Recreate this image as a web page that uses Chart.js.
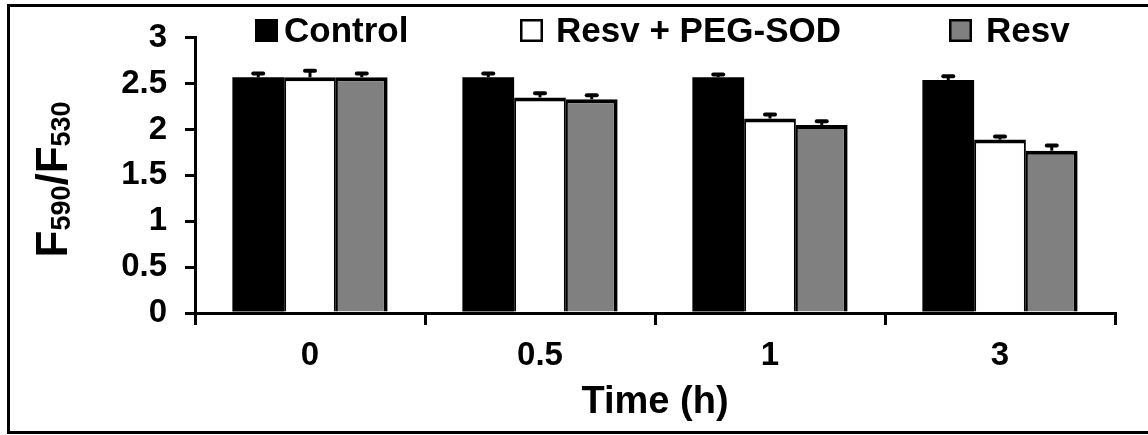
<!DOCTYPE html>
<html>
<head>
<meta charset="utf-8">
<script src="https://cdn.jsdelivr.net/npm/chart.js@4.4.1/dist/chart.umd.min.js"></script>
<style>
  html, body { margin: 0; padding: 0; background: #fff; }
</style>
</head>
<body>
<canvas id="grafico" width="1148" height="435"></canvas>
<script>
const horas = ["0", "0.5", "1", "3"];
const nomes = ["Control", "Resv + PEG-SOD", "Resv"];
const controlo = [2.57, 2.57, 2.57, 2.54];
const controloErro = [0.04, 0.04, 0.03, 0.04];
const resvPeg = [2.57, 2.35, 2.12, 1.89];
const resvPegErro = [0.07, 0.045, 0.045, 0.035];
const resv = [2.57, 2.33, 2.05, 1.77];
const resvErro = [0.04, 0.045, 0.04, 0.055];
const yTicks = [0, 0.5, 1, 1.5, 2, 2.5, 3];
const yTickLabels = ["0", "0.5", "1", "1.5", "2", "2.5", "3"];

const erros = [controloErro, resvPegErro, resvErro];
const FONTE = '"Liberation Sans", Arial, sans-serif';
Chart.defaults.font.family = FONTE;
Chart.defaults.color = "#000";

// moldura preta à volta da figura
const moldura = {
  id: "moldura",
  beforeDraw(chart) {
    const ctx = chart.ctx;
    ctx.save();
    ctx.fillStyle = "#fff";
    ctx.fillRect(0, 0, chart.width, chart.height);
    ctx.strokeStyle = "#000";
    ctx.lineWidth = 3;
    ctx.beginPath();
    ctx.moveTo(chart.width, 5.5);
    ctx.lineTo(8.5, 5.5);
    ctx.lineTo(8.5, 432.5);
    ctx.lineTo(chart.width, 432.5);
    ctx.stroke();
    ctx.restore();
  }
};

// barras de erro (só para cima)
const barrasErro = {
  id: "barrasErro",
  afterDatasetsDraw(chart) {
    const ctx = chart.ctx;
    const y = chart.scales.y;
    ctx.save();
    ctx.strokeStyle = "#000";
    chart.data.datasets.forEach((ds, i) => {
      chart.getDatasetMeta(i).data.forEach((bar, j) => {
        const topo = y.getPixelForValue(ds.data[j] + erros[i][j]);
        ctx.lineWidth = 3;
        ctx.lineCap = "butt";
        ctx.beginPath();
        ctx.moveTo(bar.x, bar.y);
        ctx.lineTo(bar.x, topo);
        ctx.stroke();
        ctx.lineWidth = 4;
        ctx.lineCap = "round";
        ctx.beginPath();
        ctx.moveTo(bar.x - 5, topo);
        ctx.lineTo(bar.x + 5, topo);
        ctx.stroke();
      });
    });
    ctx.restore();
  }
};

// legenda no topo
const legenda = {
  id: "legenda",
  afterDraw(chart) {
    const ctx = chart.ctx;
    const caixas = [255, 520, 949];
    const textos = [284, 556, 986];
    ctx.save();
    ctx.font = "bold 35px " + FONTE;
    ctx.textBaseline = "alphabetic";
    chart.data.datasets.forEach((ds, i) => {
      ctx.fillStyle = ds.backgroundColor;
      ctx.fillRect(caixas[i], 19, 23, 23);
      if (i > 0) {
        ctx.lineWidth = 2.5;
        ctx.strokeStyle = "#000";
        ctx.strokeRect(caixas[i] + 1.25, 20.25, 20.5, 20.5);
      }
      ctx.fillStyle = "#000";
      ctx.fillText(ds.label, textos[i], 42);
    });
    ctx.restore();
  }
};

// título do eixo y com índices
const tituloY = {
  id: "tituloY",
  afterDraw(chart) {
    const ctx = chart.ctx;
    const partes = [["F", 44, 0], ["590", 27, 3], ["/F", 44, 0], ["530", 27, 3]];
    ctx.save();
    ctx.translate(67, (chart.chartArea.top + chart.chartArea.bottom) / 2 + 4);
    ctx.rotate(-Math.PI / 2);
    ctx.fillStyle = "#000";
    ctx.textBaseline = "alphabetic";
    let total = 0;
    partes.forEach(p => {
      ctx.font = "bold " + p[1] + "px " + FONTE;
      total += ctx.measureText(p[0]).width;
    });
    let x = -total / 2;
    partes.forEach(p => {
      ctx.font = "bold " + p[1] + "px " + FONTE;
      ctx.fillText(p[0], x, p[2]);
      x += ctx.measureText(p[0]).width;
    });
    ctx.restore();
  }
};

new Chart(document.getElementById("grafico"), {
  type: "bar",
  data: {
    labels: horas,
    datasets: [{
      label: nomes[0],
      data: controlo,
      backgroundColor: "#000",
      borderColor: "#000",
      borderWidth: 0
    }, {
      label: nomes[1],
      data: resvPeg,
      backgroundColor: "#fff",
      borderColor: "#000",
      borderWidth: { top: 4, left: 2, right: 2, bottom: 0 }
    }, {
      label: nomes[2],
      data: resv,
      backgroundColor: "#808080",
      borderColor: "#000",
      borderWidth: { top: 4, left: 2, right: 4, bottom: 0 }
    }]
  },
  options: {
    responsive: false,
    animation: false,
    devicePixelRatio: 1,
    categoryPercentage: 0.675,
    barPercentage: 1,
    layout: { padding: { left: 100, right: 33, top: 35, bottom: 0 } },
    plugins: {
      legend: { display: false },
      tooltip: { enabled: false }
    },
    scales: {
      x: {
        grid: { offset: true, drawOnChartArea: false, color: "#000", lineWidth: 3, tickLength: 12 },
        border: { color: "#000", width: 3 },
        ticks: { font: { size: 33, weight: "bold" }, padding: 11 },
        title: {
          display: true,
          text: "Time (h)",
          font: { size: 38, weight: "bold" },
          padding: { top: 0, bottom: 10 }
        },
        afterFit(s) { s.height = 122; }
      },
      y: {
        min: 0,
        max: 3,
        afterBuildTicks(s) { s.ticks = yTicks.map(v => ({ value: v })); },
        grid: { drawOnChartArea: false, color: "#000", lineWidth: 3, tickLength: 10 },
        border: { color: "#000", width: 3 },
        ticks: {
          font: { size: 33, weight: "bold" },
          padding: 18,
          callback: (v, i) => yTickLabels[i]
        },
        afterFit(s) { s.width = 95; }
      }
    }
  },
  plugins: [moldura, barrasErro, legenda, tituloY]
});
</script>
</body>
</html>
